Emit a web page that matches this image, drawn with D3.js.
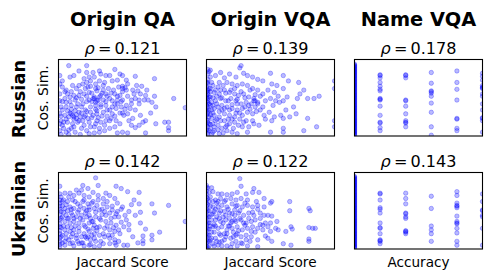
<!DOCTYPE html>
<html><head><meta charset="utf-8">
<script src="https://cdn.jsdelivr.net/npm/d3@7"></script>
<style>body{margin:0;background:#fff}svg{display:block}</style>
</head><body>
<script>
// ---- data (x: Jaccard score / accuracy in %, y: cosine similarity in % of axis range) ----
const columnTitles = ["Origin QA", "Origin VQA", "Name VQA"];
const rowLabels = ["Russian", "Ukrainian"];
const xLabels = ["Jaccard Score", "Jaccard Score", "Accuracy"];
const yLabel = "Cos. Sim.";
const rhoRussian = ["0.121", "0.139", "0.178"];
const rhoUkrainian = ["0.142", "0.122", "0.143"];

const ruOrigQA = [[8,92],[22,92],[22,83],[12,79],[9,77],[1,79],[16,85],[27,83],[32,85],[33,81],[37,79],[40,79],[44,87],[48,81],[50,79],[46,73],[42,72],[60,78],[75,75],[61,66],[65,65],[69,60],[58,60],[54,68],[50,65],[50,62],[52,63],[53,60],[90,49],[99,37],[75,52],[70,47],[67,47],[63,47],[60,49],[57,47],[73,44],[76,38],[72,30],[76,16],[83,18],[86,18],[86,11],[86,7],[68,4],[68,20],[66,18],[63,14],[60,11],[57,14],[58,23],[54,29],[51,27],[56,36],[53,40],[49,38],[46,47],[44,42],[48,53],[44,55],[40,49],[37,55],[35,60],[29,62],[28,51],[31,47],[27,49],[24,57],[23,64],[19,68],[16,66],[14,62],[11,66],[6,60],[3,64],[1,68],[1,55],[5,49],[9,51],[12,53],[16,53],[20,55],[24,47],[19,42],[15,42],[10,40],[6,38],[2,38],[1,29],[5,27],[10,29],[12,25],[16,31],[21,34],[25,38],[29,40],[33,38],[37,40],[40,34],[35,31],[30,29],[27,27],[23,23],[19,20],[15,18],[11,16],[7,18],[3,14],[1,7],[6,5],[10,10],[13,5],[18,10],[22,7],[25,12],[29,16],[33,18],[37,20],[41,23],[45,20],[48,16],[44,12],[40,10],[36,7],[32,5],[28,4],[24,3],[50,5],[54,4],[46,4],[22,70],[25,72],[29,68],[32,72],[36,70],[24,77],[20,75],[28,77],[28,49],[32,51],[29,44],[35,47],[11,27],[14,23],[8,25],[2,20],[1,46],[1,16],[3,34],[6,44],[53,73],[63,42],[60,34],[64,27],[50,47],[42,29],[45,36],[59,55],[64,55],[68,53],[30,46],[26,45],[33,53],[12,22],[9,30],[14,28],[4,10],[2,2],[8,2],[17,2],[30,33],[38,26],[18,38],[22,45],[13,47],[7,33],[50,30],[55,20],[62,59],[20,25],[31,24],
  [3,45],[7,55],[10,58],[14,50],[18,48],[22,52],[26,56],[30,59],[34,56],[38,52],[42,46],[46,52],[50,58],[54,52],[57,42],[52,35],[48,30],[44,26],[40,20],[36,14],[32,10],[28,12],[24,18],[20,14],[16,20],[12,12],[8,8],[4,18],[2,26],[6,22],[10,35],[14,38],[18,30],[22,32],[26,24],[30,20],[34,26],[38,34],[42,38],[46,42],[49,45],[17,58],[21,62],[25,65],[31,63],[35,66],[39,62],[43,60],[47,64],[41,56],[37,45],[33,41],[29,35],[25,31],[21,27],[17,25],[13,33],[9,45],[5,58],[3,72]];

const ruOrigVQA = [[1,87],[1,81],[1,74],[1,68],[2,62],[1,55],[2,51],[1,46],[2,42],[1,38],[2,34],[1,29],[2,25],[1,20],[2,16],[1,12],[2,7],[1,3],[1,60],[1,49],[0,40],[0,27],[0,14],[0,53],[0,64],[0,33],[0,21],[0,8],[0,45],[0,58],[27,92],[26,89],[3,86],[11,83],[18,81],[7,79],[14,76],[23,77],[29,82],[32,79],[36,77],[40,74],[44,72],[50,82],[60,79],[64,72],[72,70],[100,72],[100,62],[51,68],[55,66],[53,57],[60,62],[76,60],[73,55],[71,49],[63,51],[60,46],[57,44],[54,46],[50,49],[46,46],[44,55],[40,60],[36,62],[32,66],[28,68],[24,66],[20,68],[16,70],[13,66],[9,64],[5,66],[6,57],[10,55],[14,60],[18,57],[22,55],[25,53],[29,55],[33,51],[37,49],[40,44],[38,38],[35,42],[31,44],[27,42],[23,46],[19,49],[15,46],[11,49],[7,46],[5,40],[9,38],[12,40],[16,38],[20,36],[24,34],[28,36],[32,31],[36,29],[42,34],[45,27],[49,31],[53,25],[51,20],[58,27],[62,34],[68,38],[70,29],[65,25],[60,23],[88,52],[84,49],[79,49],[79,23],[86,12],[76,7],[60,10],[60,5],[50,5],[100,20],[100,12],[41,14],[37,16],[33,12],[29,18],[25,14],[22,18],[18,16],[14,20],[10,25],[6,27],[5,16],[9,14],[12,10],[16,7],[20,5],[24,3],[32,5],[10,3],[6,7],[4,34],[4,23],[7,20],[14,29],[18,27],[22,25],[28,27],[24,42],[3,51],[3,77],[38,54],[37,46],[40,42],[4,44],[3,58],[5,30],[3,10],[8,52],[12,34],[17,22],[4,2],[30,38],[34,35],[26,30],[20,41],[15,12],[11,60],
  [1,5],[1,18],[1,31],[1,44],[1,57],[1,70],[2,84],[0,36],[0,50],[0,70],[3,15],[3,28],[3,40],[3,62],[4,70],[5,5],[5,50],[6,12],[6,36],[7,60],[8,22],[8,42],[9,8],[10,32],[10,70],[11,20],[12,50],[13,4],[14,36],[15,56],[16,14],[17,46],[18,34],[19,60],[20,22],[21,10],[22,62],[23,30],[24,48],[26,22],[27,58],[28,12],[30,50],[31,20],[33,40],[34,60],[36,20],[38,46],[39,32],[42,52],[44,38],[46,22],[48,60],[52,40],[56,52]];

const ruNameVQA = [[0,94],[0,93],[0,92],[0,91],[0,90],[0,89],[0,88],[0,87],[0,86],[0,85],[0,84],[0,83],[0,82],[0,81],[0,80],[0,79],[0,78],[0,77],[0,76],[0,75],[0,74],[0,73],[0,72],[0,71],[0,70],[0,69],[0,68],[0,67],[0,66],[0,65],[0,64],[0,63],[0,62],[0,61],[0,60],[0,59],[0,58],[0,57],[0,56],[0,55],[0,54],[0,53],[0,52],[0,51],[0,50],[0,49],[0,48],[0,47],[0,46],[0,45],[0,44],[0,43],[0,42],[0,41],[0,40],[0,39],[0,38],[0,37],[0,36],[0,35],[0,34],[0,33],[0,32],[0,31],[0,30],[0,29],[0,28],[0,27],[0,26],[0,25],[0,24],[0,23],[0,22],[0,21],[0,20],[0,19],[0,18],[0,17],[0,16],[0,15],[0,14],[0,13],[0,12],[0,11],[0,10],[0,9],[0,8],[0,7],[0,6],[0,5],[0,4],[0,3],[0,2],[0,1],
  [20,79],[20,80],[20,76],[20,70],[20,65],[20,61],[20,59],[20,49],[20,48],[20,47],[20,39],[20,27],[20,18],[20,17],[20,11],[20,7],
  [40,80],[40,79],[40,76],[40,47],[40,46],[40,39],[40,29],[40,20],[40,18],[40,17],[40,12],
  [60,83],[60,69],[60,59],[60,58],[60,56],[60,52],[60,43],[60,31],[60,12],[60,1],
  [80,85],[80,70],[80,61],[80,47],[80,23],[80,22],[80,10],[80,7],
  [100,82],[100,78],[100,73],[100,66],[100,64],[100,63],[100,62],[100,55],[100,52],[100,42],[100,34],[100,24],[100,23],[100,20],[100,5]];

const ukOrigQA = [[29,93],[1,82],[19,83],[23,79],[31,83],[45,82],[49,79],[54,75],[63,74],[59,64],[63,59],[73,59],[86,57],[99,36],[75,47],[64,48],[60,44],[64,34],[68,26],[73,18],[79,22],[73,12],[66,17],[66,11],[66,7],[62,8],[58,16],[55,25],[51,29],[53,38],[55,49],[50,55],[46,60],[44,66],[40,70],[37,73],[35,66],[31,70],[27,74],[24,68],[20,70],[16,73],[12,70],[9,73],[5,73],[2,68],[3,62],[7,62],[11,64],[15,59],[19,62],[23,59],[27,62],[30,57],[35,59],[38,55],[42,51],[46,49],[47,42],[44,42],[40,47],[36,49],[32,51],[28,53],[24,51],[20,53],[16,51],[12,53],[9,55],[5,53],[2,49],[6,44],[10,47],[14,42],[18,44],[22,42],[25,40],[29,42],[33,38],[37,36],[41,34],[45,31],[47,25],[44,23],[40,25],[36,27],[32,29],[28,31],[24,34],[20,31],[16,34],[12,36],[9,34],[5,36],[1,38],[1,29],[5,25],[9,23],[12,25],[16,23],[20,20],[24,23],[28,20],[32,18],[36,16],[40,14],[44,12],[47,10],[51,5],[54,5],[45,5],[40,7],[35,7],[29,10],[25,12],[22,14],[18,16],[14,14],[10,16],[6,14],[2,16],[1,10],[5,5],[9,7],[12,4],[16,7],[20,4],[24,5],[28,3],[32,4],[1,3],[1,60],[1,20],[23,16],[27,27],[24,55],[21,29],[11,44],[7,29],[3,42],[14,77],[18,77],[1,45],[1,52],[1,33],[1,24],[1,14],[3,8],[4,30],[8,40],[13,30],[17,40],[21,47],[26,36],[30,24],[34,45],[15,10],[11,20],[19,8],[7,50],[3,56],[26,18],[38,30],[42,18],[49,35],
  [1,56],[1,64],[1,72],[1,6],[2,40],[2,28],[3,18],[4,48],[4,64],[5,10],[6,20],[6,58],[7,40],[8,68],[8,12],[10,28],[10,52],[11,8],[12,40],[13,62],[14,18],[15,48],[16,28],[17,56],[18,8],[19,38],[20,64],[21,16],[22,50],[23,26],[24,44],[25,6],[26,60],[27,36],[28,14],[29,48],[30,28],[31,64],[32,40],[33,10],[34,52],[35,20],[37,44],[38,62],[39,18],[41,40],[42,56],[43,28],[44,8],[45,46],[48,20],[49,52],[52,44],[55,32],[57,58]];

const ukOrigVQA = [[0,83],[0,80],[0,76],[0,72],[0,68],[0,64],[0,60],[0,56],[0,52],[0,48],[0,44],[0,40],[0,36],[0,32],[0,28],[0,24],[0,20],[0,16],[0,12],[0,8],[0,4],[0,1],[1,58],[1,42],[1,26],[1,10],[2,50],[2,34],[2,18],[2,4],
  [26,92],[27,82],[37,79],[36,74],[41,74],[31,72],[24,74],[20,72],[16,71],[12,72],[9,72],[5,75],[3,68],[7,64],[11,66],[15,64],[19,66],[23,64],[27,66],[32,64],[39,62],[45,66],[50,60],[51,62],[65,62],[65,50],[80,53],[81,50],[45,55],[40,57],[36,55],[32,57],[28,55],[24,57],[20,59],[16,55],[12,57],[9,55],[5,55],[6,49],[10,47],[14,49],[18,47],[22,44],[25,47],[29,44],[33,47],[37,44],[42,47],[48,44],[51,43],[55,36],[50,34],[46,34],[42,40],[38,38],[35,36],[31,34],[27,38],[23,36],[19,34],[15,38],[11,36],[7,38],[5,29],[9,27],[12,29],[16,25],[20,27],[24,29],[28,25],[32,27],[36,29],[40,27],[44,25],[48,29],[50,23],[54,27],[56,25],[62,23],[66,29],[67,26],[80,28],[83,27],[85,27],[80,13],[80,10],[66,5],[60,7],[51,10],[46,17],[40,12],[35,16],[31,12],[27,16],[23,18],[19,14],[15,16],[11,18],[7,14],[5,7],[9,5],[12,10],[16,4],[20,7],[24,4],[28,7],[32,4],[40,3],[20,36],[22,51],[18,40],[24,20],[14,20],[23,10],[4,45],[4,22],[3,12],[6,32],[8,60],[13,42],[17,30],[21,22],[26,40],[30,31],[35,23],[44,31],[10,9],
  [1,80],[1,66],[1,50],[1,34],[1,18],[1,2],[2,74],[2,62],[2,42],[2,26],[2,10],[3,56],[3,30],[4,80],[4,38],[4,14],[5,62],[5,46],[6,22],[6,4],[7,52],[7,30],[8,42],[8,10],[9,62],[10,20],[10,40],[11,50],[12,4],[13,34],[14,62],[14,12],[15,44],[16,20],[17,52],[18,30],[19,2],[20,46],[21,16],[22,38],[23,56],[25,24],[26,50],[27,8],[29,34],[30,60],[31,18],[33,40],[34,10],[36,48],[38,22],[40,52],[42,32],[45,44],[48,14]];

const ukNameVQA = [[0,95],[0,94],[0,93],[0,92],[0,91],[0,90],[0,89],[0,88],[0,87],[0,86],[0,85],[0,84],[0,83],[0,82],[0,81],[0,80],[0,79],[0,78],[0,77],[0,76],[0,75],[0,74],[0,73],[0,72],[0,71],[0,70],[0,69],[0,68],[0,67],[0,66],[0,65],[0,64],[0,63],[0,62],[0,61],[0,60],[0,59],[0,58],[0,57],[0,56],[0,55],[0,54],[0,53],[0,52],[0,51],[0,50],[0,49],[0,48],[0,47],[0,46],[0,45],[0,44],[0,43],[0,42],[0,41],[0,40],[0,39],[0,38],[0,37],[0,36],[0,35],[0,34],[0,33],[0,32],[0,31],[0,30],[0,29],[0,28],[0,27],[0,26],[0,25],[0,24],[0,23],[0,22],[0,21],[0,20],[0,19],[0,18],[0,17],[0,16],[0,15],[0,14],[0,13],[0,12],[0,11],[0,10],[0,9],[0,8],[0,7],[0,6],[0,5],[0,4],[0,3],[0,2],[0,1],
  [20,73],[20,72],[20,64],[20,54],[20,52],[20,47],[20,34],[20,28],[20,27],[20,20],[20,12],[20,11],[20,10],[20,7],
  [40,73],[40,66],[40,59],[40,47],[40,46],[40,42],[40,40],[40,24],[40,23],[40,22],[40,20],
  [60,69],[60,53],[60,30],[60,25],[60,20],[60,10],
  [80,75],[80,70],[80,60],[80,57],[80,56],[80,54],[80,43],[80,36],[80,34],[80,33],[80,27],[80,21],[80,10],[80,5],
  [100,72],[100,62],[100,51],[100,50],[100,44],[100,42],[100,27],[100,5]];

const panels = [
  [ruOrigQA, ruOrigVQA, ruNameVQA],
  [ukOrigQA, ukOrigVQA, ukNameVQA]
];
const rhos = [rhoRussian, rhoUkrainian];

// ---- layout ----
const W = 491, H = 278;
const colLeft = [58.5, 206.5, 354.5];
const rowTop = [59.5, 172.5];
const pw = 128, ph = 76.5;
const rowLabelCY = [99, 209];

const svg = d3.select("body").append("svg").attr("width", W).attr("height", H)
  .style("font-family", "'DejaVu Sans', sans-serif");

const defs = svg.append("defs");

// scale a group of texts so the first one has the target width
function fitGroup(sel, target) {
  const node = sel.nodes()[0];
  const fs = parseFloat(node.getAttribute("font-size"));
  const w = node.getComputedTextLength();
  if (w > 0) sel.attr("font-size", fs * target / w);
}

const rhoTexts = [];
panels.forEach((row, r) => {
  row.forEach((data, c) => {
    const x0 = colLeft[c], y0 = rowTop[r];
    const xs = d3.scaleLinear().domain([0, 100]).range([x0, x0 + pw]);
    const ys = d3.scaleLinear().domain([0, 100]).range([y0 + ph, y0]);
    const id = `clip-${r}-${c}`;
    defs.append("clipPath").attr("id", id).append("rect")
      .attr("x", x0).attr("y", y0).attr("width", pw).attr("height", ph);
    svg.append("g").attr("clip-path", `url(#${id})`)
      .selectAll("circle").data(data).join("circle")
      .attr("cx", d => xs(d[0])).attr("cy", d => ys(d[1]))
      .attr("r", 2.2)
      .attr("fill", "blue").attr("fill-opacity", 0.27)
      .attr("stroke", "blue").attr("stroke-opacity", 0.27).attr("stroke-width", 1);
    svg.append("rect").attr("x", x0).attr("y", y0).attr("width", pw).attr("height", ph)
      .attr("fill", "none").attr("stroke", "black").attr("stroke-width", 1.1);
    const t = svg.append("text").attr("class", "rho").attr("x", x0 + pw / 2).attr("y", r === 0 ? 54 : 166.5)
      .attr("text-anchor", "middle").attr("font-size", 16.7).attr("fill", "black");
    t.append("tspan").attr("font-style", "italic").text("ρ");
    t.append("tspan").text("\u2009=\u2009" + rhos[r][c]);
  });
});
fitGroup(svg.selectAll("text.rho"), 76);

// column titles
const titles = svg.selectAll("text.coltitle").data(columnTitles).join("text").attr("class", "coltitle")
  .attr("x", (d, c) => colLeft[c] + pw / 2).attr("y", 26)
  .attr("text-anchor", "middle").attr("font-size", 19.4).attr("font-weight", "bold").text(d => d);
fitGroup(titles, 105);

// x labels
const xl = svg.selectAll("text.xlabel").data(xLabels).join("text").attr("class", "xlabel")
  .attr("x", (d, c) => colLeft[c] + pw / 2).attr("y", 266.5)
  .attr("text-anchor", "middle").attr("font-size", 13.9).text(d => d);
fitGroup(xl, 92);

// row labels and y labels
const rl = svg.selectAll("text.rowlabel").data(rowLabels).join("text").attr("class", "rowlabel")
  .attr("transform", (d, r) => `translate(25,${rowLabelCY[r]}) rotate(-90)`)
  .attr("text-anchor", "middle").attr("font-size", 16.7).attr("font-weight", "bold").text(d => d);
fitGroup(rl, 78);
const yl = svg.selectAll("text.ylabel").data(rowLabels).join("text").attr("class", "ylabel")
  .attr("transform", (d, r) => `translate(48,${rowTop[r] + ph / 2}) rotate(-90)`)
  .attr("text-anchor", "middle").attr("font-size", 13.9).text(yLabel);
fitGroup(yl, 65);
</script>
</body></html>
